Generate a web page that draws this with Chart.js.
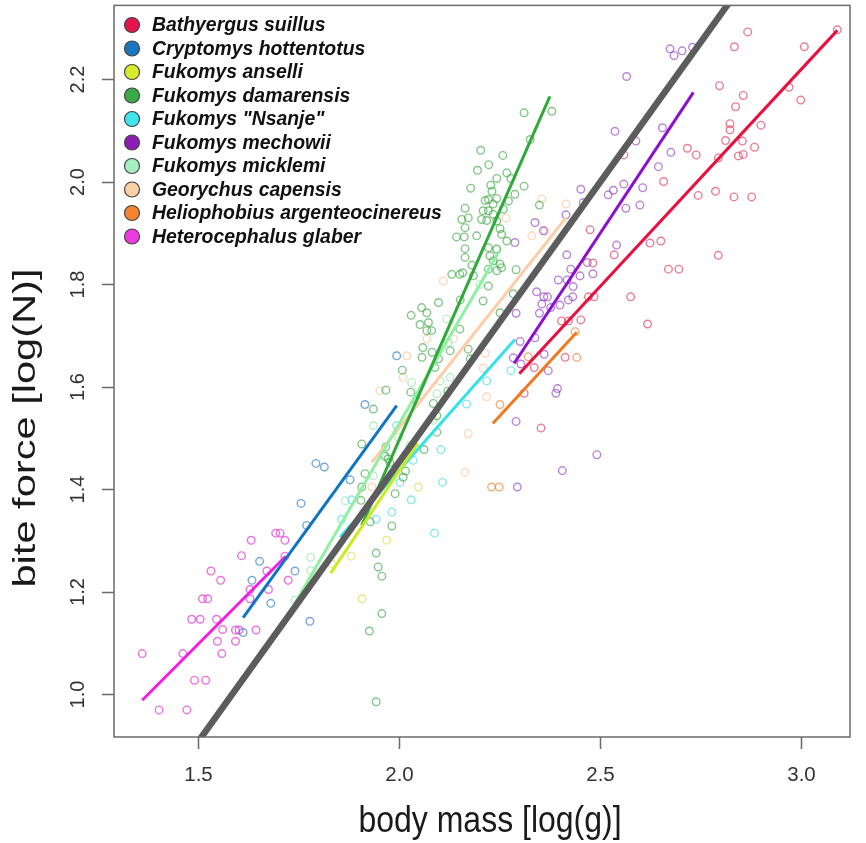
<!DOCTYPE html>
<html>
<head>
<meta charset="utf-8">
<script src="https://cdn.jsdelivr.net/npm/chart.js@4.4.1/dist/chart.umd.min.js"></script>
<style>
  html, body { margin: 0; padding: 0; background: #fff; }
  #wrap { width: 866px; height: 843px; }
</style>
</head>
<body>
<div id="wrap"><canvas id="chart" width="866" height="843"></canvas></div>
<script>
const species = [
    'Bathyergus suillus', 'Cryptomys hottentotus', 'Fukomys anselli', 'Fukomys damarensis',
    'Fukomys "Nsanje"', 'Fukomys mechowii', 'Fukomys micklemi', 'Georychus capensis',
    'Heliophobius argenteocinereus', 'Heterocephalus glaber'
];

const xTicks = [1.5, 2.0, 2.5, 3.0];
const yTicks = [1.0, 1.2, 1.4, 1.6, 1.8, 2.0, 2.2];

// [log body mass, log bite force]
const bathyergus = [[3.089,2.297],[2.866,2.293],[2.833,2.264],[3.007,2.264],[2.796,2.188],[2.855,2.169],[2.836,2.147],[2.969,2.185],[2.998,2.160],[2.822,2.114],[2.822,2.102],[2.899,2.111],[2.811,2.081],[2.853,2.080],[2.883,2.068],[2.843,2.051],[2.855,2.054],[2.716,2.066],[2.738,2.053],[2.793,2.047],[2.558,2.053],[2.657,2.001],[2.743,1.974],[2.786,1.982],[2.832,1.971],[2.876,1.971],[2.474,1.907],[2.623,1.881],[2.650,1.885],[2.793,1.857],[2.534,1.858],[2.481,1.842],[2.669,1.830],[2.695,1.830],[2.470,1.776],[2.484,1.776],[2.575,1.776],[2.617,1.723],[2.403,1.729],[2.420,1.729],[2.451,1.731],[2.335,1.638],[2.310,1.588],[2.352,1.520],[2.412,1.658]];
const cryptomys = [[1.611,1.121],[1.633,1.223],[1.652,1.260],[1.680,1.178],[1.740,1.241],[1.755,1.373],[1.769,1.330],[1.777,1.143],[1.792,1.451],[1.813,1.444],[1.877,1.419],[1.914,1.566],[1.993,1.661]];
const anselli = [[1.832,1.255],[1.880,1.270],[1.907,1.187],[1.968,1.301],[2.047,1.405]];
const damarensis = [[2.310,2.135],[2.379,2.138],[2.325,2.083],[2.202,2.062],[2.257,2.052],[2.222,2.034],[2.194,2.023],[2.267,2.018],[2.277,2.007],[2.242,2.007],[2.177,1.988],[2.227,1.994],[2.230,1.982],[2.310,1.992],[2.287,1.976],[2.213,1.964],[2.221,1.966],[2.242,1.968],[2.233,1.957],[2.163,1.949],[2.208,1.944],[2.221,1.944],[2.233,1.937],[2.258,1.947],[2.271,1.963],[2.348,1.955],[2.155,1.927],[2.171,1.930],[2.204,1.927],[2.217,1.925],[2.242,1.924],[2.163,1.911],[2.250,1.909],[2.142,1.893],[2.161,1.893],[2.192,1.895],[2.254,1.898],[2.267,1.885],[2.163,1.870],[2.221,1.872],[2.242,1.869],[2.163,1.853],[2.180,1.838],[2.225,1.856],[2.233,1.846],[2.250,1.840],[2.221,1.830],[2.242,1.827],[2.254,1.833],[2.130,1.820],[2.150,1.820],[2.157,1.823],[2.184,1.817],[2.290,1.829],[2.221,1.797],[2.151,1.770],[2.208,1.768],[2.283,1.782],[2.097,1.765],[2.250,1.745],[2.055,1.755],[2.068,1.745],[2.029,1.740],[2.051,1.722],[2.072,1.726],[2.080,1.710],[2.068,1.710],[2.150,1.713],[2.058,1.677],[2.056,1.658],[2.081,1.668],[2.097,1.655],[2.126,1.671],[2.171,1.674],[2.007,1.633],[1.966,1.594],[2.088,1.638],[2.028,1.590],[2.043,1.574],[2.084,1.568],[2.093,1.544],[1.935,1.557],[1.906,1.489],[1.966,1.483],[1.972,1.460],[2.061,1.478],[2.009,1.424],[1.914,1.431],[1.906,1.405],[1.989,1.392],[2.093,1.512],[2.015,1.436],[1.904,1.379],[1.927,1.337],[1.981,1.329],[1.942,1.276],[1.947,1.249],[1.956,1.231],[1.956,1.158],[1.925,1.124],[1.942,0.986],[1.964,1.465],[1.976,1.453],[2.176,1.655],[2.120,1.592]];
const nsanje = [[2.103,1.478],[2.107,1.414],[2.029,1.380],[1.981,1.356],[2.087,1.315],[1.881,1.380],[1.856,1.342],[1.942,1.342],[2.034,1.457],[2.001,1.414],[2.217,1.612],[2.167,1.567],[2.277,1.632],[1.993,1.525]];
const mechowii = [[2.673,2.260],[2.683,2.247],[2.703,2.256],[2.729,2.263],[2.565,2.206],[2.536,2.099],[2.588,2.080],[2.654,2.106],[2.675,2.058],[2.644,2.030],[2.558,1.996],[2.532,1.984],[2.519,1.975],[2.605,1.989],[2.451,1.986],[2.457,1.960],[2.563,1.949],[2.598,1.955],[2.414,1.936],[2.337,1.921],[2.358,1.905],[2.287,1.882],[2.540,1.877],[2.416,1.858],[2.467,1.843],[2.426,1.830],[2.449,1.817],[2.481,1.821],[2.395,1.809],[2.417,1.809],[2.432,1.796],[2.341,1.786],[2.359,1.776],[2.368,1.776],[2.420,1.770],[2.431,1.776],[2.354,1.762],[2.376,1.755],[2.399,1.760],[2.348,1.744],[2.290,1.744],[2.337,1.696],[2.300,1.689],[2.360,1.664],[2.283,1.657],[2.302,1.645],[2.370,1.632],[2.393,1.597],[2.389,1.588],[2.290,1.533],[2.491,1.468],[2.405,1.437],[2.293,1.405]];
const micklemi = [[1.779,1.268],[1.779,1.242],[1.740,1.184],[1.935,1.427],[2.117,1.733],[2.121,1.687],[2.126,1.619],[2.101,1.612],[2.030,1.609],[2.093,1.587],[2.084,1.535],[1.997,1.502],[2.026,1.486],[1.935,1.525],[1.960,1.470],[1.981,1.424],[2.200,1.800],[2.240,1.870],[1.865,1.378]];
const georychus = [[2.354,1.967],[2.414,1.957],[2.329,1.895],[2.362,1.905],[2.265,1.930],[2.213,1.666],[2.217,1.581],[2.109,1.807],[2.018,1.661],[1.951,1.593],[2.171,1.509],[2.163,1.434],[2.134,1.694],[2.208,1.637],[2.009,1.619],[1.931,1.405],[2.068,1.694]];
const heliophobius = [[2.441,1.658],[2.437,1.708],[2.320,1.659],[2.250,1.566],[2.229,1.405],[2.248,1.405]];
const heterocephalus = [[1.360,1.080],[1.402,0.970],[1.471,0.970],[1.461,1.080],[1.490,1.028],[1.518,1.028],[1.483,1.147],[1.504,1.147],[1.510,1.187],[1.523,1.187],[1.531,1.241],[1.555,1.223],[1.545,1.147],[1.560,1.127],[1.547,1.104],[1.558,1.080],[1.607,1.271],[1.631,1.301],[1.592,1.126],[1.601,1.126],[1.592,1.104],[1.643,1.126],[1.628,1.205],[1.628,1.187],[1.670,1.241],[1.674,1.205],[1.692,1.315],[1.703,1.315],[1.715,1.301],[1.723,1.223],[1.715,1.270]];

const speciesPoints = [bathyergus, cryptomys, anselli, damarensis, nsanje, mechowii, micklemi, georychus, heliophobius, heterocephalus];

// fitted lines per species: [x start, y start, x end, y end]
const fitLines = [
    [2.298,1.626,3.089,2.296], [1.611,1.150,1.993,1.564], [1.829,1.237,2.045,1.490],
    [1.906,1.330,2.374,2.167], [1.852,1.307,2.287,1.693], [2.285,1.646,2.731,2.175],
    [1.740,1.178,2.245,1.861], [1.931,1.453,2.414,1.930], [2.232,1.529,2.441,1.707],
    [1.360,0.989,1.717,1.270]
];
const overallFit = [1.50, 0.909, 2.85, 2.383];

const legendColors = ['#E3134B', '#1A75BC', '#D6EC2C', '#3AAA48', '#40E4EC', '#8B1EB4', '#A4EEBF', '#FBCFA5', '#F38330', '#EC3BE0'];
const lineColors = ['#E8103E', '#0F74C4', '#C8EC20', '#2FAA3A', '#34E2E8', '#8A10D0', '#8EF0A0', '#FFCCA6', '#F07A20', '#F020E0'];
const pointColors = [
    'rgba(220,40,80,0.6)', 'rgba(30,110,190,0.6)', 'rgba(200,225,60,0.6)', 'rgba(50,160,60,0.6)',
    'rgba(60,215,230,0.6)', 'rgba(140,50,190,0.6)', 'rgba(130,225,160,0.55)', 'rgba(245,185,140,0.55)',
    'rgba(230,130,50,0.65)', 'rgba(225,40,210,0.65)'
];

const FONT = '"Liberation Sans", Arial, sans-serif';

const datasets = [];
species.forEach((name, i) => {
    datasets.push({
        label: name,
        data: speciesPoints[i].map(([x, y]) => ({ x, y })),
        showLine: false,
        pointRadius: 3.8,
        pointBorderWidth: 1.4,
        pointBorderColor: pointColors[i],
        pointBackgroundColor: 'rgba(0,0,0,0)',
        order: 3
    });
});
species.forEach((name, i) => {
    const f = fitLines[i];
    datasets.push({
        label: name + ' fit',
        data: [{ x: f[0], y: f[1] }, { x: f[2], y: f[3] }],
        showLine: true,
        borderColor: lineColors[i],
        borderWidth: 3,
        pointRadius: 0,
        order: 2
    });
});
datasets.push({
    label: 'all species',
    data: [{ x: overallFit[0], y: overallFit[1] }, { x: overallFit[2], y: overallFit[3] }],
    showLine: true,
    borderColor: '#5c5c5c',
    borderWidth: 6.5,
    pointRadius: 0,
    order: 1
});

const frame = {
    id: 'frame',
    afterDraw(chart) {
        const { ctx, chartArea: a, scales } = chart;
        ctx.save();
        ctx.strokeStyle = '#6a6a6a';
        ctx.lineWidth = 1.5;
        ctx.strokeRect(a.left, a.top, a.right - a.left, a.bottom - a.top);

        // y tick labels, rotated like R
        ctx.fillStyle = '#333';
        ctx.font = '20px ' + FONT;
        ctx.textAlign = 'center';
        ctx.textBaseline = 'middle';
        yTicks.forEach(v => {
            const py = scales.y.getPixelForValue(v);
            ctx.save();
            ctx.translate(78, py);
            ctx.rotate(-Math.PI / 2);
            ctx.fillText(v.toFixed(1), 0, 0);
            ctx.restore();
        });

        // axis titles
        ctx.fillStyle = '#1a1a1a';
        ctx.font = '32px ' + FONT;
        ctx.save();
        ctx.translate(490, 822);
        ctx.scale(1, 1.15);
        ctx.fillText('body mass [log(g)]', 0, 0);
        ctx.restore();
        ctx.save();
        ctx.translate(26, 428);
        ctx.rotate(-Math.PI / 2);
        ctx.scale(1.3, 1);
        ctx.fillText('bite force [log(N)]', 0, 0);
        ctx.restore();

        // legend
        ctx.textAlign = 'left';
        ctx.font = 'italic bold 19.4px ' + FONT;
        species.forEach((name, i) => {
            const yy = 25 + i * 23.5;
            ctx.beginPath();
            ctx.arc(132, yy, 7.5, 0, Math.PI * 2);
            ctx.fillStyle = legendColors[i];
            ctx.fill();
            ctx.lineWidth = 1.2;
            ctx.strokeStyle = '#444';
            ctx.stroke();
            ctx.fillStyle = '#111';
            ctx.fillText(name, 152, yy + 1);
        });
        ctx.restore();
    }
};

new Chart(document.getElementById('chart'), {
    type: 'scatter',
    data: { datasets },
    options: {
        responsive: false,
        animation: false,
        layout: { padding: { top: 4, right: 16, left: 0, bottom: 0 } },
        plugins: { legend: { display: false }, tooltip: { enabled: false } },
        scales: {
            x: {
                type: 'linear',
                min: 1.2898,
                max: 3.1206,
                afterBuildTicks: s => { s.ticks = xTicks.map(v => ({ value: v })); },
                afterFit: s => { s.height = 106; },
                border: { display: false },
                grid: { drawOnChartArea: false, drawTicks: true, tickLength: 12, tickColor: '#6a6a6a', tickWidth: 1.5 },
                ticks: {
                    color: '#333',
                    font: { family: FONT, size: 20.5 },
                    padding: 14,
                    maxRotation: 0,
                    callback: v => Number(v).toFixed(1)
                }
            },
            y: {
                type: 'linear',
                min: 0.9172,
                max: 2.3447,
                afterBuildTicks: s => { s.ticks = yTicks.map(v => ({ value: v })); },
                afterFit: s => { s.width = 114; },
                border: { display: false },
                grid: { drawOnChartArea: false, drawTicks: true, tickLength: 12, tickColor: '#6a6a6a', tickWidth: 1.5 },
                ticks: { display: false }
            }
        }
    },
    plugins: [frame]
});
</script>
</body>
</html>
